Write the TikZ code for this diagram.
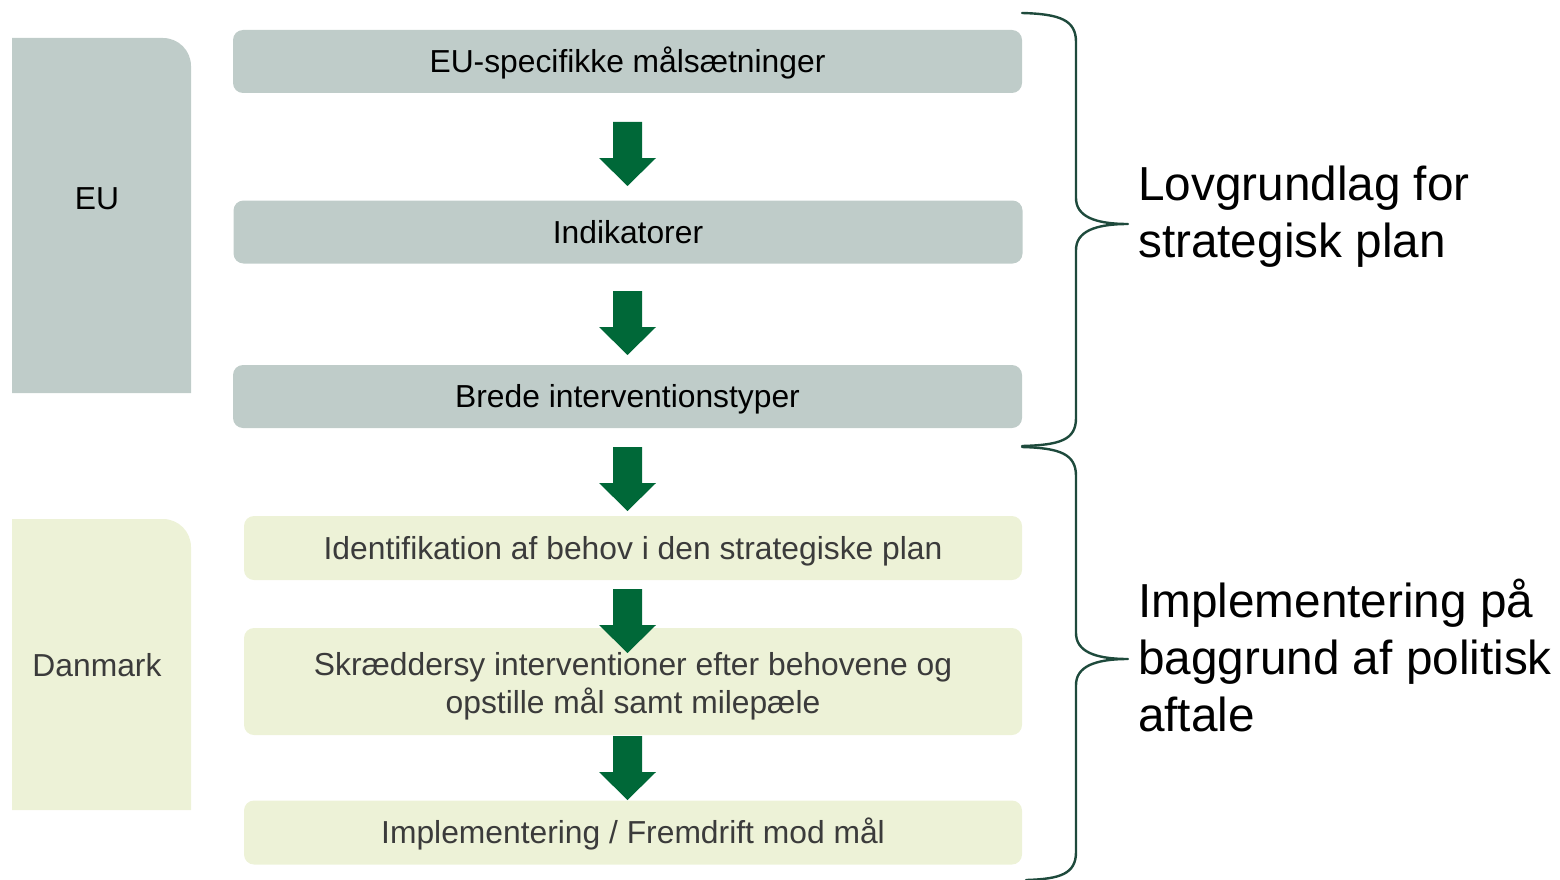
\documentclass[tikz,border=0pt]{standalone}
\usepackage{fontspec}
\setmainfont{Liberation Sans}
\definecolor{eufill}{RGB}{191,204,201}
\definecolor{dkfill}{RGB}{237,242,215}
\definecolor{arrowgreen}{RGB}{0,104,56}
\definecolor{dktext}{RGB}{59,59,59}
\definecolor{bracecol}{RGB}{30,74,60}
\tikzset{
  boxfont/.style={font=\fontsize{31.8}{38.2}\selectfont},
  bigfont/.style={font=\fontsize{47.7}{57.2}\selectfont},
  eubox/.style={boxfont, fill=eufill, rounded corners=10pt, inner sep=0pt,
    minimum width=789pt, minimum height=63pt, text=black,
    text height=22pt, text depth=0pt},
  dkbox/.style={boxfont, fill=dkfill, rounded corners=10pt, inner sep=0pt,
    minimum width=778pt, minimum height=64pt, text=dktext,
    text height=22pt, text depth=0pt},
  sidelabel/.style={boxfont, inner sep=0pt, text height=22pt, text depth=0pt},
  bigtext/.style={bigfont, anchor=base west, inner sep=0pt, text=black},
  bracestyle/.style={draw=bracecol, line width=2.4pt, line cap=round, line join=round},
  downarrow/.pic={\fill[arrowgreen] (-14.5,0) -- (14.5,0) -- (14.5,-36) -- (28.5,-36)
      -- (0,-64) -- (-28.5,-36) -- (-14.5,-36) -- cycle;}
}
\begin{document}
\begin{tikzpicture}[x=1pt,y=1pt]
\useasboundingbox (0,0) rectangle (1560,-880);

% side panels
\fill[eufill] (12,-393) -- (12,-38) -- (163,-38) arc[start angle=90,end angle=0,radius=28] -- (191,-393) -- cycle;
\node[sidelabel, text=black] (eulabel) at (97,-198) {EU};
\fill[dkfill] (12,-810) -- (12,-519) -- (163,-519) arc[start angle=90,end angle=0,radius=28] -- (191,-810) -- cycle;
\node[sidelabel, text=dktext] (dklabel) at (97,-665) {Danmark};

% EU boxes
\node[eubox] (b1) at (627.5,-61.5) {EU-specifikke målsætninger};
\node[eubox] (b2) at (628,-232) {Indikatorer};
\node[eubox] (b3) at (627.5,-396.5) {Brede interventionstyper};

% DK boxes
\node[dkbox] (b4) at (633,-548) {Identifikation af behov i den strategiske plan};
\node[dkbox, minimum height=107pt, align=center, text height=, text depth=] (b5) at (633,-681.5)
  {\rule{0pt}{1.0em}Skræddersy interventioner efter behovene og\\opstille mål samt milepæle\rule[-0.2em]{0pt}{0pt}};
\node[dkbox] (b6) at (633,-832.5) {Implementering / Fremdrift mod mål};

% arrows
\pic at (627.5,-122) {downarrow};
\pic at (627.5,-291) {downarrow};
\pic at (627.5,-447) {downarrow};
\pic at (627.5,-589) {downarrow};
\pic at (627.5,-736) {downarrow};

% braces
\coordinate (t1) at (1022,-13);
\coordinate (tip1) at (1128,-224);
\coordinate (e1) at (1022,-446);
\draw[bracestyle] (t1) .. controls (1060,-14) and (1076,-20) .. (1076,-42)
  -- (1076,-198) .. controls (1076,-216) and (1094,-224) .. (tip1)
  .. controls (1094,-224) and (1076,-232) .. (1076,-250)
  -- (1076,-418) .. controls (1076,-440) and (1060,-445) .. (e1);
\coordinate (t2) at (1022,-447);
\coordinate (tip2) at (1128,-659);
\coordinate (e2) at (1026,-880);
\draw[bracestyle] (t2) .. controls (1060,-448) and (1076,-454) .. (1076,-476)
  -- (1076,-633) .. controls (1076,-651) and (1094,-659) .. (tip2)
  .. controls (1094,-659) and (1076,-667) .. (1076,-685)
  -- (1076,-852) .. controls (1076,-874) and (1060,-879) .. (e2);

% right texts
\node[bigtext] (l1) at (1138,-200) {Lovgrundlag for};
\node[bigtext] (l2) at (1138,-257) {strategisk plan};
\node[bigtext] (i1) at (1138,-617) {Implementering på};
\node[bigtext] (i2) at (1138,-674) {baggrund af politisk};
\node[bigtext] (i3) at (1138,-731) {aftale};
\end{tikzpicture}
\end{document}
